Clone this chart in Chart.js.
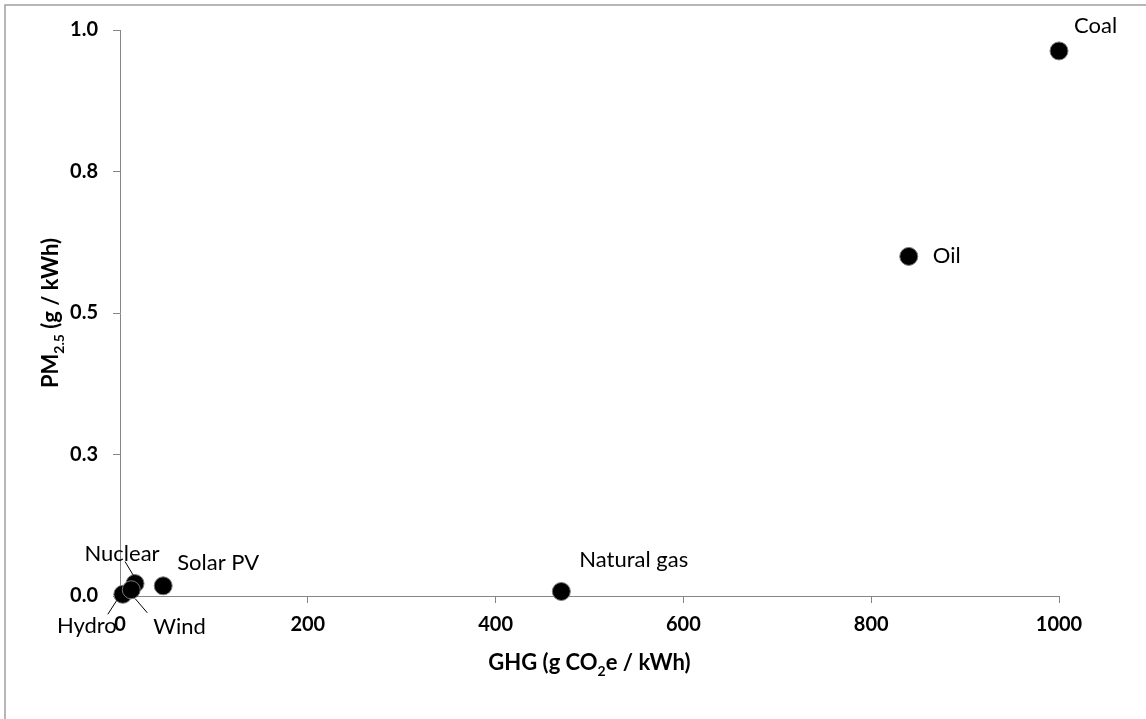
<!DOCTYPE html>
<html>
<head>
<meta charset="utf-8">
<script src="https://cdn.jsdelivr.net/npm/chart.js@4.4.1/dist/chart.umd.min.js"></script>
<style>
  html, body { margin: 0; padding: 0; background: #fff; }
  #wrap { width: 1146px; height: 719px; position: relative; }
</style>
</head>
<body>
<div id="wrap"><canvas id="myChart" width="1146" height="719"></canvas></div>
<script>
(function(){
  // source types, emissions per kWh
  const names = ['Nuclear', 'Hydro', 'Wind', 'Solar PV', 'Natural gas', 'Oil', 'Coal'];
  const ghg = [16, 3, 12, 46, 470, 840, 1000];          // g CO2e / kWh
  const pm25 = [0.022, 0.003, 0.011, 0.018, 0.008, 0.60, 0.963]; // g / kWh
  const xTickValues = [0, 200, 400, 600, 800, 1000];
  const yTickValues = [0, 0.25, 0.5, 0.75, 1.0];

  // where each label sits relative to its point (px)
  const labelPos = {
    'Coal':        { dx: 15,  dy: -25, align: 'left' },
    'Oil':         { dx: 24,  dy: 0,   align: 'left' },
    'Natural gas': { dx: 18,  dy: -32, align: 'left' },
    'Solar PV':    { dx: 14,  dy: -23, align: 'left' },
    'Nuclear':     { dx: -13, dy: -30, align: 'center', leader: [-10, -22, -1, -7] },
    'Hydro':       { dx: -6,  dy: 32,  align: 'right',  leader: [-15, 20, -6, 6] },
    'Wind':        { dx: 22,  dy: 37,  align: 'left',   leader: [4, 9, 16, 23] }
  };

  const FONT = 'Lato, "Open Sans", sans-serif';
  const axisGray = '#868686';

  const points = names.map((n, i) => ({ x: ghg[i], y: pm25[i] }));

  function drawRich(ctx, parts, cx, cy, size) {
    let total = 0;
    parts.forEach(p => {
      ctx.font = 'bold ' + (p.sub ? Math.round(size * 0.65) : size) + 'px ' + FONT;
      p.w = ctx.measureText(p.t).width;
      total += p.w;
    });
    let x = cx - total / 2;
    ctx.textBaseline = 'alphabetic';
    ctx.textAlign = 'left';
    parts.forEach(p => {
      ctx.font = 'bold ' + (p.sub ? Math.round(size * 0.65) : size) + 'px ' + FONT;
      ctx.fillText(p.t, x, cy + (p.sub ? size * 0.25 : 0));
      x += p.w;
    });
  }

  const extras = {
    id: 'extras',
    beforeDraw(chart) {
      const ctx = chart.ctx;
      ctx.save();
      ctx.strokeStyle = '#a0a0a0';
      ctx.lineWidth = 1.5;
      ctx.strokeRect(5, 5, 2000, 2000);
      ctx.restore();
    },
    afterDatasetsDraw(chart) {
      const ctx = chart.ctx;
      const meta = chart.getDatasetMeta(0);
      ctx.save();
      ctx.fillStyle = '#000';
      ctx.strokeStyle = '#000';
      ctx.lineWidth = 1;
      ctx.font = '22px ' + FONT;
      ctx.textBaseline = 'middle';
      names.forEach((n, i) => {
        const el = meta.data[i];
        const lp = labelPos[n];
        ctx.textAlign = lp.align;
        ctx.fillText(n, el.x + lp.dx, el.y + lp.dy);
        if (lp.leader) {
          const l = lp.leader;
          ctx.beginPath();
          ctx.moveTo(el.x + l[0], el.y + l[1]);
          ctx.lineTo(el.x + l[2], el.y + l[3]);
          ctx.stroke();
        }
      });
      ctx.restore();
    },
    afterDraw(chart) {
      const ctx = chart.ctx;
      const a = chart.chartArea;
      ctx.save();
      ctx.fillStyle = '#000';
      drawRich(ctx, [{ t: 'GHG (g CO' }, { t: '2', sub: true }, { t: 'e / kWh)' }],
        (a.left + a.right) / 2, 670, 22);
      ctx.translate(58, (a.top + a.bottom) / 2);
      ctx.rotate(-Math.PI / 2);
      drawRich(ctx, [{ t: 'PM' }, { t: '2.5', sub: true }, { t: ' (g / kWh)' }], 0, 0, 22);
      ctx.restore();
    }
  };

  const data = {
    datasets: [{
      data: points,
      clip: false,
      backgroundColor: '#000',
      borderColor: '#7a7a7a',
      borderWidth: 1,
      pointRadius: 9,
      pointHoverRadius: 9
    }]
  };

  const config = {
    type: 'scatter',
    data,
    options: {
      responsive: false,
      animation: false,
      events: [],
      layout: { padding: { top: 30, right: 87, left: 0, bottom: 0 } },
      plugins: { legend: { display: false }, tooltip: { enabled: false } },
      scales: {
        x: {
          type: 'linear',
          min: 0, max: 1000,
          afterFit(s) { s.height = 123; },
          afterBuildTicks(s) { s.ticks = xTickValues.map(v => ({ value: v })); },
          grid: { drawOnChartArea: false, drawTicks: true, tickLength: 7, color: axisGray },
          border: { color: axisGray, width: 1 },
          ticks: {
            color: '#000', padding: 10,
            font: { family: FONT, size: 20, weight: 'bold' },
            callback: v => String(v)
          }
        },
        y: {
          type: 'linear',
          min: 0, max: 1,
          afterFit(s) { s.width = 120; },
          afterBuildTicks(s) { s.ticks = yTickValues.map(v => ({ value: v })); },
          grid: { drawOnChartArea: false, drawTicks: true, tickLength: 7, color: axisGray },
          border: { color: axisGray, width: 1 },
          ticks: {
            color: '#000', padding: 15,
            font: { family: FONT, size: 20, weight: 'bold' },
            callback: v => v.toFixed(1)
          }
        }
      }
    },
    plugins: [extras]
  };

  new Chart(document.getElementById('myChart'), config);
})();
</script>
</body>
</html>
